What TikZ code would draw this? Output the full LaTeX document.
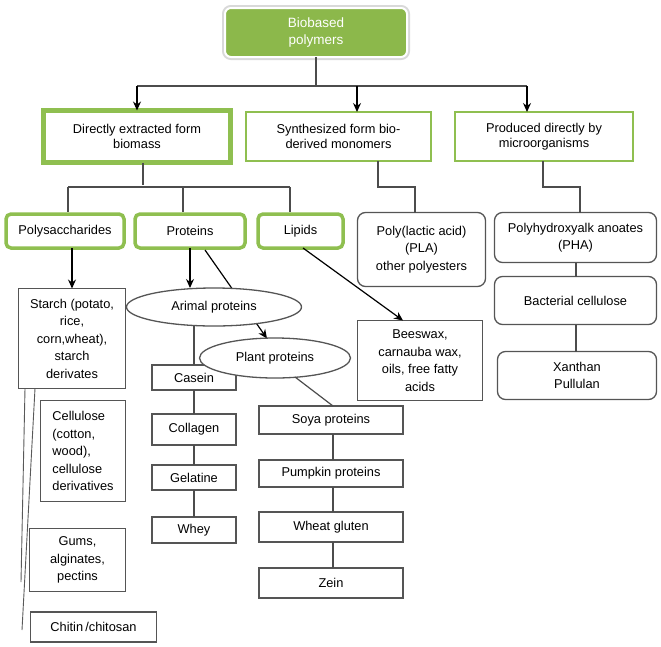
\documentclass[tikz,border=0pt]{standalone}
\usepackage{fontspec}
\setmainfont{Liberation Sans}
\usetikzlibrary{arrows.meta,shapes.geometric,calc}
\definecolor{gfill}{HTML}{8CB84B}
\definecolor{gline}{HTML}{8FBF50}
\definecolor{boxgray}{HTML}{555555}
\tikzset{
  base/.style={font=\fontsize{12.8}{17.5}\selectfont, align=center, inner sep=1pt, outer sep=0pt},
  rootbox/.style={base, fill=gfill, draw=white, line width=2pt, rounded corners=6pt, text=white,
     font=\fontsize{13.5}{16.5}\selectfont, preaction={draw=black!15, line width=6pt}},
  thickgreen/.style={base, draw=gline, line width=5pt, fill=white, font=\fontsize{12.8}{15}\selectfont},
  thingreen/.style={base, draw=gline, line width=2.5pt, fill=white, font=\fontsize{12.8}{15}\selectfont},
  catbox/.style={base, draw=gline, line width=3.5pt, rounded corners=5pt, fill=white},
  roundgray/.style={base, draw=boxgray, line width=1.3pt, rounded corners=8pt, fill=white},
  graybox/.style={base, draw=boxgray, line width=1.3pt, fill=white},
  ovalbox/.style={base, ellipse, draw=boxgray, line width=1.3pt, fill=white, inner sep=0pt},
  conn/.style={draw=black!70, line width=1.2pt},
  arr/.style={draw=black, line width=1.2pt, -{Stealth[length=9pt,width=8pt]}},
}
\begin{document}
\begin{tikzpicture}[x=1pt,y=-1pt]
\useasboundingbox (0,0) rectangle (661,646);

% top level
\node[rootbox, minimum width=182pt, minimum height=49pt] (root) at (316,32.5) {Biobased\\polymers};
\node[thickgreen, minimum width=187pt, minimum height=52pt] (A) at (137,136.5) {Directly extracted form\\biomass};
\node[thingreen, minimum width=185pt, minimum height=49pt] (B) at (338.5,136.5) {Synthesized form bio-\\derived monomers};
\node[thingreen, minimum width=178pt, minimum height=49pt] (C) at (544,136.5) {Produced directly by\\microorganisms};

\coordinate (j) at (316,86);
\coordinate (jL) at (137,86);
\coordinate (jR) at (527,86);
\draw[conn] (root.south) -- (j);
\draw[conn] (jL) -- (jR);
\draw[arr] (jL) -- (A.north);
\draw[arr] (j -| {$(B.north)+(18.5,0)$}) -- ($(B.north)+(18.5,0)$);
\draw[arr] (jR) -- (jR |- C.north);

% second level
\node[catbox, minimum width=118pt, minimum height=34pt] (poly) at (65,231) {Polysaccharides};
\node[catbox, minimum width=110pt, minimum height=34pt] (prot) at (190,231) {Proteins};
\node[catbox, minimum width=85pt, minimum height=34pt] (lip) at (300.5,231) {Lipids};
\node[roundgray, minimum width=128pt, minimum height=74pt] (pla) at (421.5,249.5) {Poly(lactic acid)\\(PLA)\\other polyesters};
\node[roundgray, minimum width=162pt, minimum height=50pt] (pha) at (575.5,237.5) {Polyhydroxyalk anoates\\(PHA)};
\node[roundgray, minimum width=162pt, minimum height=48pt] (bac) at (575.5,300.5) {Bacterial cellulose};
\node[roundgray, minimum width=159pt, minimum height=48pt] (xan) at (577,375.5) {Xanthan\\Pullulan};
\node[graybox, minimum width=125pt, minimum height=80pt] (bees) at (420,360.5) {Beeswax,\\carnauba wax,\\oils, free fatty\\acids};

% branch from A
\coordinate (a1) at ($(A.south)+(6,0)$);
\coordinate (a2) at ($(a1)+(0,22)$);
\draw[conn] (a1) -- (a2);
\draw[conn] (68,187) -- (290,187);
\draw[conn] (68,187) -- (68,212);
\draw[conn] (183,187) -- (183,212);
\draw[conn] (290,187) -- (290,212);

% B -> PLA, C -> PHA
\draw[conn] ($(B.south)+(39.5,0)$) |- (415,187) -- (pla.north -| 415,0);
\draw[conn] ($(C.south)+(-1,0)$) |- (580,187) -- (pha.north -| 580,0);
\draw[conn] (pha.south -| 576,0) -- (bac.north -| 576,0);
\draw[conn] (bac.south -| 576,0) -- (xan.north -| 576,0);

% polysaccharides
\node[graybox, minimum width=107pt, minimum height=100pt] (starch) at (72,338.5) {Starch (potato,\\rice,\\corn,wheat),\\starch\\derivates};
\node[graybox, minimum width=85pt, minimum height=101pt, align=left] (cell) at (83,451) {Cellulose\\(cotton,\\wood),\\cellulose\\derivatives};
\node[graybox, minimum width=96pt, minimum height=63pt] (gums) at (77.5,560) {Gums,\\alginates,\\pectins};
\node[graybox, minimum width=126pt, minimum height=30pt] (chit) at (93.5,627) {Chitin\,/chitosan};
\draw[arr] (starch.north |- poly.south) -- (starch.north);
\coordinate (s1) at (21,582);
\coordinate (s2) at (22,630);
\draw[draw=black!65, line width=0.9pt] (starch.south -| 25,0) -- (s1);
\draw[draw=black!65, line width=0.9pt] (starch.south -| 35,0) -- (s2);

% proteins
\node[graybox, minimum width=84pt, minimum height=25pt] (casein) at (194,377.5) {Casein};
\node[graybox, minimum width=84pt, minimum height=31pt] (coll) at (194,429.5) {Collagen};
\node[graybox, minimum width=84pt, minimum height=25pt] (gel) at (194,477.5) {Gelatine};
\node[graybox, minimum width=84pt, minimum height=26pt] (whey) at (194,530) {Whey};
\draw[conn] (casein.north) -- (194,320);
\draw[conn] (casein.south) -- (coll.north);
\draw[conn] (coll.south) -- (gel.north);
\draw[conn] (gel.south) -- (whey.north);

\coordinate (pp1) at (205,250);
\draw[arr] (pp1) -- (267,338.5);
\node[ovalbox, minimum width=175pt, minimum height=38pt] (arim) at (214,307) {Arimal proteins};
\node[ovalbox, minimum width=151pt, minimum height=40pt] (plant) at (275,358) {Plant proteins};
\draw[arr] (prot.south) -- (arim.north -| prot.south);

\node[graybox, minimum width=144pt, minimum height=28pt] (soya) at (331,420) {Soya proteins};
\node[graybox, minimum width=144pt, minimum height=27pt] (pump) at (331,473.5) {Pumpkin proteins};
\node[graybox, minimum width=144pt, minimum height=30pt] (wheat) at (331,527) {Wheat gluten};
\node[graybox, minimum width=144pt, minimum height=30pt] (zein) at (331,583) {Zein};
\draw[conn] (295,377) -- ($(soya.north)+(2,0)$);
\draw[conn] ($(soya.south)+(2,0)$) -- ($(pump.north)+(2,0)$);
\draw[conn] ($(pump.south)+(2,0)$) -- ($(wheat.north)+(2,0)$);
\draw[conn] ($(wheat.south)+(2,0)$) -- ($(zein.north)+(2,0)$);

% lipids
\draw[arr] ($(lip.south)+(2.5,0)$) -- ($(bees.north)+(-17,0)$);
\end{tikzpicture}
\end{document}
